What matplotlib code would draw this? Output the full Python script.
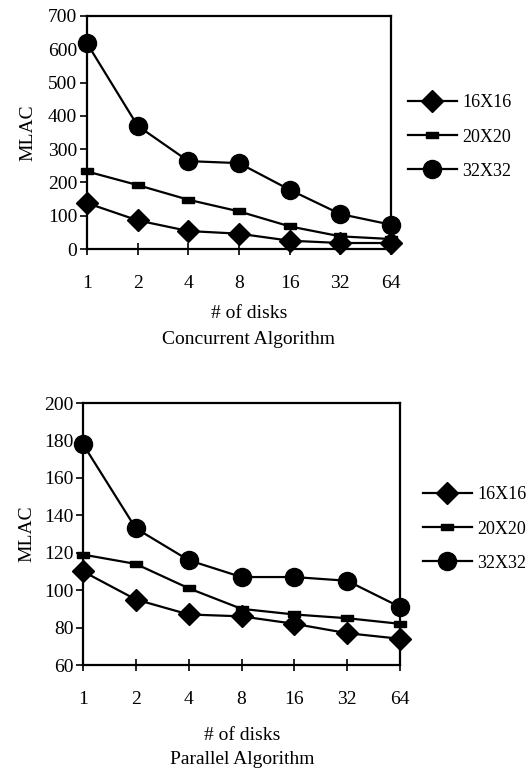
import matplotlib
matplotlib.use("Agg")
import matplotlib.pyplot as plt

plt.rcParams['font.family'] = ['Liberation Serif', 'DejaVu Serif']
plt.rcParams['font.size'] = 14

disks = ["1", "2", "4", "8", "16", "32", "64"]
series = ["16X16", "20X20", "32X32"]

# concurrent algorithm
conc_16 = [138, 86, 54, 46, 25, 18, 18]
conc_20 = [233, 192, 148, 113, 68, 38, 30]
conc_32 = [618, 370, 264, 258, 178, 105, 73]

# parallel algorithm
par_16 = [110, 95, 87, 86, 82, 77, 74]
par_20 = [119, 114, 101, 90, 87, 85, 82]
par_32 = [178, 133, 116, 107, 107, 105, 91]

rect = [(-1, -0.45), (1, -0.45), (1, 0.45), (-1, 0.45), (-1, -0.45)]
styles = [dict(marker="D", markersize=11),
          dict(marker=rect, markersize=9),
          dict(marker="o", markersize=13)]

fig = plt.figure(figsize=(5.31, 7.73), dpi=100)


def draw(ax, data, ylim, yticks, legpos, ylabelpad):
    x = range(len(disks))
    for vals, name, st in zip(data, series, styles):
        ax.plot(x, vals, color="black", lw=1.6, label=name, clip_on=False, **st)
    ax.set_xlim(0, len(disks) - 1)
    ax.set_ylim(*ylim)
    ax.set_yticks(yticks)
    ax.set_xticks(list(x))
    ax.set_xticklabels(disks)
    for s in ax.spines.values():
        s.set_linewidth(1.6)
    ax.tick_params(axis="x", direction="inout", length=9, width=1.2, pad=14)
    ax.tick_params(axis="y", direction="out", length=5, width=1.2, pad=2)
    ax.set_ylabel("MLAC", labelpad=ylabelpad)
    ax.legend(loc="center left", bbox_to_anchor=legpos, bbox_transform=fig.transFigure,
              frameon=False, borderpad=0, borderaxespad=0, handlelength=2.7,
              handletextpad=0.3, labelspacing=0.95, fontsize=13)
    return ax


ax1 = fig.add_axes([87 / 531, 1 - 249 / 773, (391 - 87) / 531, (249 - 16) / 773])
draw(ax1, [conc_16, conc_20, conc_32], (0, 700), range(0, 701, 100),
     (408 / 531, 1 - 137 / 773), 8)
fig.text(249 / 531, 1 - 313 / 773, "# of disks", ha="center", va="center")
fig.text(249 / 531, 1 - 340 / 773, "Concurrent Algorithm", ha="center", va="center")

ax2 = fig.add_axes([83 / 531, 1 - 665 / 773, (400 - 83) / 531, (665 - 403) / 773])
draw(ax2, [par_16, par_20, par_32], (60, 200), range(60, 201, 20),
     (423 / 531, 1 - 529 / 773), 6)
fig.text(242 / 531, 1 - 736 / 773, "# of disks", ha="center", va="center")
fig.text(242 / 531, 1 - 760 / 773, "Parallel Algorithm", ha="center", va="center")

fig.savefig("out.png", dpi=100)
